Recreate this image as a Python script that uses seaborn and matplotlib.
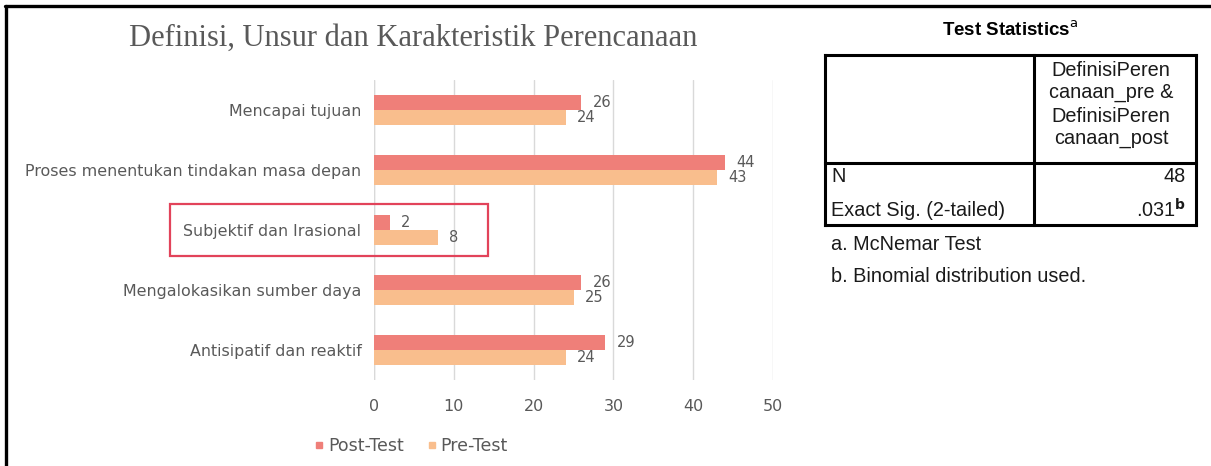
import matplotlib
matplotlib.use("Agg")
import matplotlib.pyplot as plt
from matplotlib.lines import Line2D
from matplotlib.patches import Rectangle
import pandas as pd
import seaborn as sns

# Response counts per statement, before and after the session
categories = [
    "Mencapai tujuan",
    "Proses menentukan tindakan masa depan",
    "Subjektif dan Irasional",
    "Mengalokasikan sumber daya",
    "Antisipatif dan reaktif",
]
post_test = [26, 44, 2, 26, 29]
pre_test = [24, 43, 8, 25, 24]
series_names = ["Post-Test", "Pre-Test"]
x_ticks = [0, 10, 20, 30, 40, 50]

# McNemar test summary
stat_title = "Test Statistics"
stat_header = ["DefinisiPeren", "canaan_pre &", "DefinisiPeren", "canaan_post"]
stat_rows = ["N", "Exact Sig. (2-tailed)"]
stat_values = ["48", ".031"]
footnotes = ["a. McNemar Test", "b. Binomial distribution used."]

df = pd.DataFrame({
    "kategori": categories * 2,
    "jumlah": post_test + pre_test,
    "tes": [series_names[0]] * len(categories) + [series_names[1]] * len(categories),
})

sns.set_theme(style="white")
plt.rcParams["font.family"] = ["DejaVu Sans"]

GREY = "#595959"
colors = {"Post-Test": "#EF7F79", "Pre-Test": "#F9BE8D"}

W, H = 1211, 466
fig = plt.figure(figsize=(W / 100, H / 100), dpi=100)
ax = fig.add_axes([374 / W, 1 - 380 / H, 399 / W, 300 / H])

sns.barplot(
    data=df, y="kategori", x="jumlah", hue="tes",
    order=categories, hue_order=series_names, palette=colors,
    orient="h", width=0.5, ax=ax, legend=False, errorbar=None,
    saturation=1, linewidth=0,
)

for cont in ax.containers:
    ax.bar_label(cont, padding=8, color=GREY, fontsize=10.5)

ax.set_xlim(0, 50)
ax.set_ylim(4.5, -0.5)
ax.set_xticks(x_ticks)
ax.set_xlabel("")
ax.set_ylabel("")
ax.grid(axis="x", color="#d9d9d9", linewidth=1)
ax.grid(axis="y", visible=False)
ax.axvline(0, color="#d9d9d9", linewidth=1, zorder=0)
for s in ax.spines.values():
    s.set_visible(False)
ax.tick_params(axis="x", length=0, pad=14, labelsize=11.5, labelcolor=GREY)
ax.tick_params(axis="y", length=0, pad=9, labelsize=11.4, labelcolor=GREY)

# Chart title
fig.text(413 / W, 1 - 38 / H, "Definisi, Unsur dan Karakteristik Perencanaan",
         ha="center", va="center", fontsize=22, color=GREY,
         family=["Liberation Serif"])

# Legend
handles = [Line2D([], [], marker="s", linestyle="", markersize=5,
                  color=colors[n]) for n in series_names]
fig.legend(handles, series_names, loc="center", bbox_to_anchor=(410 / W, 1 - 446 / H),
           ncol=2, frameon=False, handletextpad=0.1, columnspacing=1.2,
           labelcolor=GREY, prop={"size": 12.5}, handlelength=0.8)

# Highlight box around the "Subjektif dan Irasional" row
hl = Rectangle((170 / W, 1 - 256 / H), (488 - 170) / W, 52 / H,
               transform=fig.transFigure, fill=False, edgecolor="#E2435A",
               linewidth=1.6)
fig.add_artist(hl)

# Outer frame (top and left edges)
fig.add_artist(Line2D([5 / W, 1], [1 - 6 / H, 1 - 6 / H], color="black",
                      linewidth=2.4, transform=fig.transFigure))
fig.add_artist(Line2D([6 / W, 6 / W], [0, 1 - 6 / H], color="black",
                      linewidth=2.4, transform=fig.transFigure))

# Test statistics table
sans = ["Liberation Sans"]
TXT = "#1a1a1a"
FS = 14.3


def fy(py):
    return 1 - py / H


def fx(px):
    return px / W


fig.text(fx(1010), fy(30), stat_title + r"$^{\mathrm{a}}$", ha="center", va="center",
         fontsize=13.5, fontweight="bold", family=sans, color="black")

L, R, T, B, C, M = 825, 1196, 55, 225, 1034, 163
lw = 2.2
for (x0, y0, x1, y1) in [(L, T, R, T), (L, B, R, B), (L, T, L, B), (R, T, R, B),
                         (C, T, C, B), (L, M, R, M)]:
    fig.add_artist(Line2D([fx(x0), fx(x1)], [fy(y0), fy(y1)], color="black",
                          linewidth=lw, transform=fig.transFigure,
                          solid_capstyle="projecting"))

for i, line in enumerate(stat_header):
    fig.text(fx(1111), fy(70 + i * 23), line, ha="center", va="center",
             fontsize=FS, family=sans, color=TXT)

fig.text(fx(831), fy(177), stat_rows[0], ha="left", va="center",
         fontsize=FS, family=sans, color=TXT)
fig.text(fx(831), fy(210), stat_rows[1], ha="left", va="center",
         fontsize=FS, family=sans, color=TXT)
fig.text(fx(1186), fy(177), stat_values[0], ha="right", va="center",
         fontsize=FS, family=sans, color=TXT)
fig.text(fx(1186), fy(210), stat_values[1] + r"$^{\mathbf{b}}$", ha="right", va="center",
         fontsize=FS, family=sans, color=TXT)

fig.text(fx(831), fy(244), footnotes[0], ha="left", va="center",
         fontsize=FS, family=sans, color=TXT)
fig.text(fx(831), fy(277), footnotes[1], ha="left", va="center",
         fontsize=FS, family=sans, color=TXT)

fig.savefig("out.png", dpi=100, facecolor="white")
